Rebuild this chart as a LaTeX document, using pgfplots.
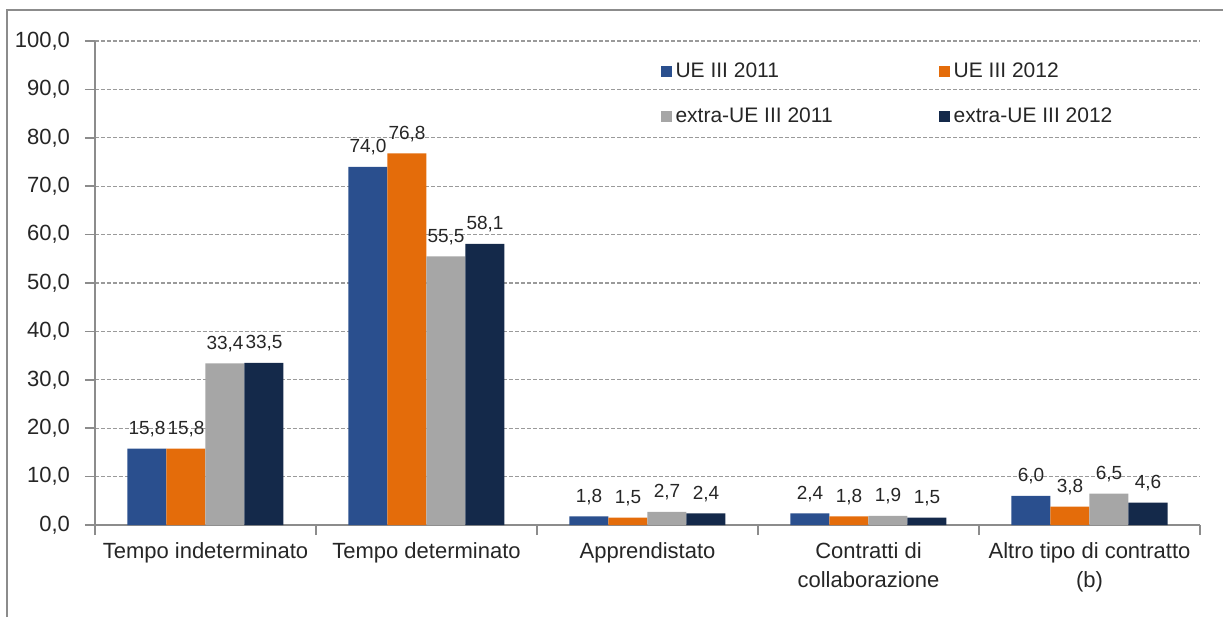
\documentclass[border=0pt]{standalone}
\usepackage{fontspec}
\setmainfont{Liberation Sans}
\usepackage{pgfplots}
\pgfplotsset{compat=1.18}

\definecolor{ueA}{HTML}{2A4F8E}
\definecolor{ueB}{HTML}{E46C0A}
\definecolor{exA}{HTML}{A6A6A6}
\definecolor{exB}{HTML}{14294A}
\definecolor{axgray}{HTML}{8C8C8C}
\definecolor{gridc}{HTML}{9A9A9A}
\definecolor{txt}{HTML}{262626}

% square swatches instead of the two-bar default
\pgfplotsset{
    /pgfplots/ybar legend/.style={
        /pgfplots/legend image code/.code={
            \fill[##1] (0pt,-2.75pt) rectangle (5.5pt,2.75pt);}},
}

\begin{document}
\begin{tikzpicture}
\useasboundingbox (-47.5pt,-46pt) rectangle (564pt,262.5pt);
\begin{axis}[
    scale only axis,
    width=552.5pt, height=242pt,
    ybar=0pt, bar width=19.5pt,
    xmin=-0.5, xmax=4.5, ymin=0, ymax=100,
    enlargelimits=false,
    axis lines*=left,
    axis line style={axgray, line width=0.8pt},
    tick align=outside,
    ytick={0,10,...,100},
    major tick length=5pt,
    minor tick length=5pt,
    major y tick style={axgray, line width=0.8pt},
    major x tick style={draw=none},
    minor x tick style={axgray, line width=0.8pt},
    xtick={0,...,4},
    minor xtick={-0.5,0.5,...,4.5},
    xticklabels={Tempo indeterminato, Tempo determinato, Apprendistato,
        {Contratti di\\collaborazione}, {Altro tipo di contratto\\(b)}},
    xticklabel style={align=center, text=txt,
        font=\fontsize{11}{14.5}\selectfont},
    yticklabel style={text=txt, font=\fontsize{11}{13}\selectfont, xshift=-4pt},
    ymajorgrids,
    grid style={gridc, dash pattern=on 2pt off 1pt, line width=0.6pt},
    /pgf/number format/.cd, fixed, fixed zerofill, precision=1, use comma,
        assume math mode=true,
    /pgfplots/.cd,
    nodes near coords,
    nodes near coords style={font=\fontsize{9.5}{11}\selectfont, text=txt,
        anchor=base, yshift=7pt},
    legend image code/.code={
        \fill[#1] (0pt,-2.75pt) rectangle (5.5pt,2.75pt);},
    legend columns=2,
    legend cell align=left,
    legend style={at={(0.506,0.972)}, anchor=north west, draw=none, fill=none,
        font=\fontsize{10.5}{12}\selectfont, text=txt, row sep=9.5pt,
        /tikz/every even column/.append style={column sep=51pt}},
]
\addplot[fill=ueA, draw=none] coordinates {(0,15.8) (1,74.0) (2,1.8) (3,2.4) (4,6.0)};
\addlegendentry{UE III 2011}
\addplot[fill=ueB, draw=none] coordinates {(0,15.8) (1,76.8) (2,1.5) (3,1.8) (4,3.8)};
\addlegendentry{UE III 2012}
\addplot[fill=exA, draw=none] coordinates {(0,33.4) (1,55.5) (2,2.7) (3,1.9) (4,6.5)};
\addlegendentry{extra-UE III 2011}
\addplot[fill=exB, draw=none] coordinates {(0,33.5) (1,58.1) (2,2.4) (3,1.5) (4,4.6)};
\addlegendentry{extra-UE III 2012}
\end{axis}
\draw[axgray, line width=0.8pt] (-44pt,-46pt) -- (-44pt,257.5pt) -- (564pt,257.5pt);
\end{tikzpicture}
\end{document}
